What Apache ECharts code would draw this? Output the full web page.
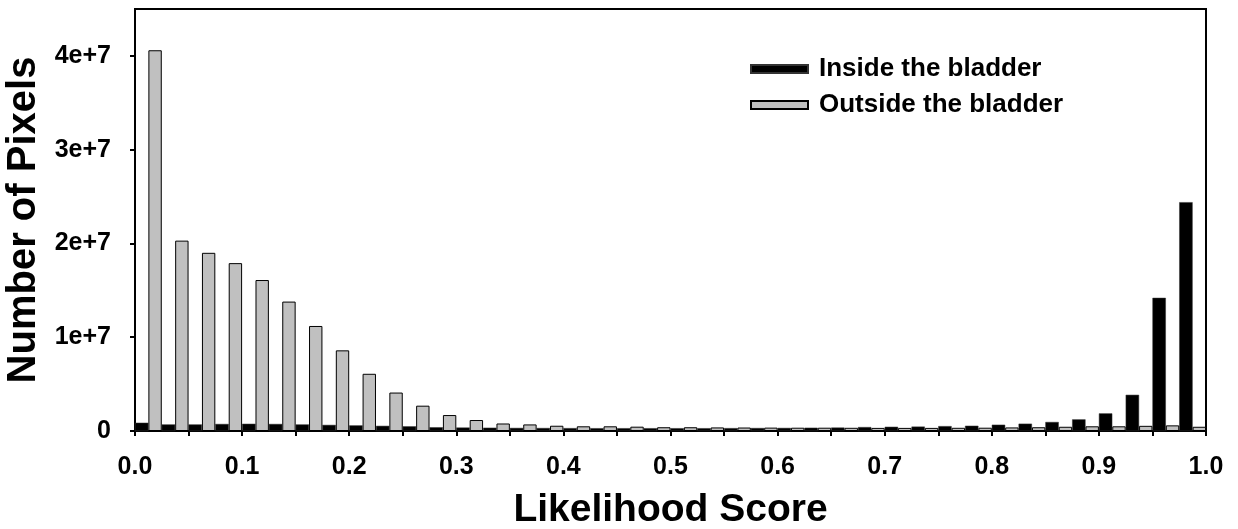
<!DOCTYPE html>
<html>
<head>
<meta charset="utf-8">
<script src="https://cdn.jsdelivr.net/npm/echarts@6/dist/echarts.min.js"></script>
<style>
  html, body { margin: 0; padding: 0; background: #fff; }
  #chart { width: 1238px; height: 529px; }
</style>
</head>
<body>
<div id="chart"></div>
<script>
// 40 bins of width 0.025 from 0 to 1
const bins = [];
for (let i = 0; i < 40; i++) bins.push((i * 0.025).toFixed(3));

const inside = [
  880000, 700000, 700000, 750000, 770000, 750000, 700000, 650000, 600000, 550000,
  500000, 400000, 370000, 350000, 330000, 320000, 310000, 300000, 300000, 300000,
  300000, 300000, 310000, 320000, 330000, 350000, 370000, 420000, 450000, 470000,
  520000, 560000, 670000, 780000, 960000, 1240000, 1880000, 3860000, 14200000, 24400000
];
const outside = [
  40600000, 20300000, 19000000, 17900000, 16100000, 13800000, 11200000, 8600000, 6100000, 4100000,
  2700000, 1700000, 1170000, 800000, 700000, 560000, 500000, 500000, 460000, 400000,
  400000, 380000, 370000, 360000, 350000, 350000, 340000, 330000, 330000, 330000,
  340000, 350000, 380000, 400000, 450000, 500000, 500000, 550000, 600000, 450000
];
const yTicks = [0, 10000000, 20000000, 30000000, 40000000];

const font = "'Liberation Sans', Arial, sans-serif";
const chart = echarts.init(document.getElementById("chart"));
chart.setOption({
  animation: false,
  backgroundColor: "#fff",
  textStyle: { fontFamily: font, color: "#000" },
  grid: {
    left: 135, right: 32, top: 9, bottom: 98, outerBoundsMode: "none",
    show: true, borderColor: "#000", borderWidth: 2,
  },
  legend: {
    left: 745, top: 50, orient: "vertical", itemGap: 8,
    itemWidth: 57, itemHeight: 8, icon: "rect",
    data: ["Inside the bladder", "Outside the bladder"],
    textStyle: { fontFamily: font, fontWeight: "bold", fontSize: 26, color: "#000", padding: [0, 0, 0, 6], lineHeight: 28 },
  },
  xAxis: [
    { type: "category", data: bins, show: false, boundaryGap: true },
    {
      type: "value", min: 0, max: 1, interval: 0.05, position: "bottom",
      name: "Likelihood Score", nameLocation: "middle", nameGap: 60,
      nameTextStyle: { fontFamily: font, fontWeight: "bold", fontSize: 39, color: "#000" },
      axisLine: { show: true, lineStyle: { color: "#000", width: 2 } },
      axisTick: { show: true, length: 5, lineStyle: { color: "#000", width: 2 } },
      splitLine: { show: false },
      axisLabel: {
        margin: 24, fontFamily: font, fontWeight: "bold", fontSize: 25, color: "#000",
        formatter: (v) => (Math.round(v * 20) % 2 === 0 ? v.toFixed(1) : ""),
      },
    },
  ],
  yAxis: {
    type: "value", min: 0, max: 45000000,
    name: "Number of Pixels", nameLocation: "middle", nameGap: 85,
    nameTextStyle: { fontFamily: font, fontWeight: "bold", fontSize: 40, color: "#000" },
    axisLine: { show: true, lineStyle: { color: "#000", width: 2 } },
    axisTick: { show: true, length: 5, customValues: yTicks, lineStyle: { color: "#000", width: 2 } },
    splitLine: { show: false },
    axisLabel: {
      margin: 24, fontFamily: font, fontWeight: "bold", fontSize: 25, color: "#000",
      customValues: yTicks,
      formatter: (v) => (v === 0 ? "0" : Math.round(v / 1e7) + "e+7"),
    },
  },
  series: [
    {
      name: "Inside the bladder", type: "bar", xAxisIndex: 0, data: inside,
      barGap: "0%", barCategoryGap: "0%",
      itemStyle: { color: "#000", borderColor: "#333", borderWidth: 0.5 },
    },
    {
      name: "Outside the bladder", type: "bar", xAxisIndex: 0, data: outside,
      barGap: "0%", barCategoryGap: "0%",
      itemStyle: { color: "#c0c0c0", borderColor: "#000", borderWidth: 1 },
    },
  ],
});
</script>
</body>
</html>
